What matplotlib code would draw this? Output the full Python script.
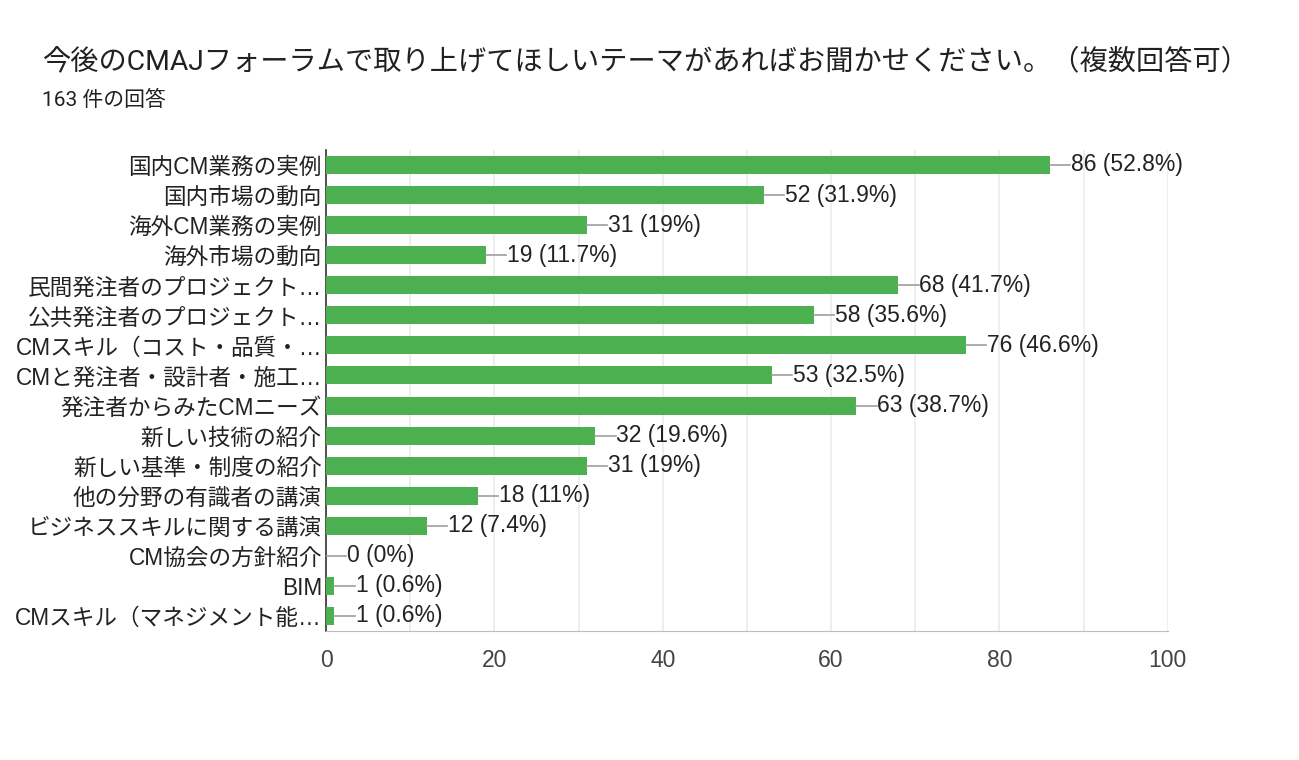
import matplotlib.pyplot as plt
import numpy as np

plt.rcParams['font.family'] = ['Liberation Sans', 'Noto Sans CJK JP', 'DejaVu Sans']

title = '今後のCMAJフォーラムで取り上げてほしいテーマがあればお聞かせください。（複数回答可）'
subtitle = '163 件の回答'

labels = ['国内CM業務の実例', '国内市場の動向', '海外CM業務の実例', '海外市場の動向',
          '民間発注者のプロジェクト…', '公共発注者のプロジェクト…', 'CMスキル（コスト・品質・…',
          'CMと発注者・設計者・施工…', '発注者からみたCMニーズ', '新しい技術の紹介',
          '新しい基準・制度の紹介', '他の分野の有識者の講演', 'ビジネススキルに関する講演',
          'CM協会の方針紹介', 'BIM', 'CMスキル（マネジメント能…']
counts = [86, 52, 31, 19, 68, 58, 76, 53, 63, 32, 31, 18, 12, 0, 1, 1]
pcts = ['52.8%', '31.9%', '19%', '11.7%', '41.7%', '35.6%', '46.6%', '32.5%',
        '38.7%', '19.6%', '19%', '11%', '7.4%', '0%', '0.6%', '0.6%']
xticks = [0, 20, 40, 60, 80, 100]

head_font = ['Roboto', 'Noto Sans CJK JP', 'DejaVu Sans']

fig = plt.figure(figsize=(12.99, 7.6), dpi=100)
ax = fig.add_axes([0.251, 0.1697, 0.648, 0.633])

y = np.arange(len(labels))
ax.barh(y, counts, height=0.6, color='#4CAF50', zorder=3)

# connector line + value label
for yi, c, p in zip(y, counts, pcts):
    ax.plot([c, c + 2.4], [yi, yi], color='#9e9e9e', lw=1.2, zorder=3)
    ax.text(c + 2.5, yi, f'{c} ({p})', va='center', ha='left',
            fontsize=16.5, color='#222222')

ax.set_xlim(0, 100)
ax.set_ylim(len(labels) - 0.5, -0.5)
ax.set_yticks(y)
ax.set_yticklabels(labels, fontsize=16.3, color='#222222')
ax.set_xticks(xticks)
ax.set_xticklabels([str(t) for t in xticks], fontsize=16.5, color='#444444')
ax.set_xticks(np.arange(0, 101, 10), minor=True)
ax.grid(axis='x', which='both', color='#ebebeb', lw=1.2, zorder=0)
ax.tick_params(axis='both', which='both', length=0, pad=3)
ax.tick_params(axis='x', pad=13)

for s in ['top', 'right']:
    ax.spines[s].set_visible(False)
ax.spines['left'].set_color('#333333')
ax.spines['left'].set_linewidth(1.2)
ax.spines['bottom'].set_color('#bdbdbd')

fig.text(42 / 1299, 1 - 62 / 760, title, fontsize=20.3, color='#212121',
         va='center', family=head_font)
fig.text(42 / 1299, 1 - 100 / 760, subtitle, fontsize=15, color='#212121',
         va='center', family=head_font)

fig.savefig('out.png', dpi=100)
